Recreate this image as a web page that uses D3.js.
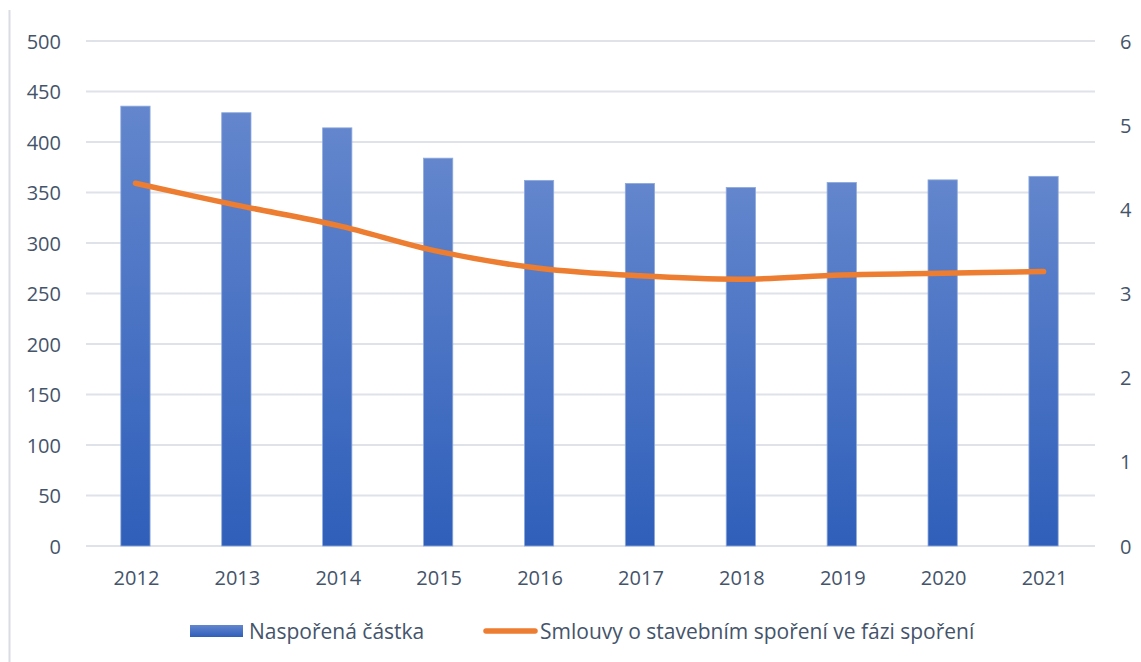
<!DOCTYPE html>
<html>
<head>
<meta charset="utf-8">
<script src="https://cdn.jsdelivr.net/npm/d3@7"></script>
<style>
  body { margin: 0; background: #fff; }
  text { font-family: "Open Sans", sans-serif; fill: #44546a; }
</style>
</head>
<body>
<script>
const years = ['2012', '2013', '2014', '2015', '2016', '2017', '2018', '2019', '2020', '2021'];
const savedAmount = [435.5, 429, 414, 384, 362, 359, 355, 360, 362.5, 366];
const contracts = [4.31, 4.05, 3.81, 3.50, 3.30, 3.21, 3.17, 3.22, 3.24, 3.26];
const leftTicks = [0, 50, 100, 150, 200, 250, 300, 350, 400, 450, 500];
const rightTicks = [0, 1, 2, 3, 4, 5, 6];
const legendLabels = ['Naspořená částka', 'Smlouvy o stavebním spoření ve fázi spoření'];

const svgWidth = 1141;
const svgHeight = 662;
const margin = { top: 41, right: 46, bottom: 116, left: 86 };
const width = svgWidth - margin.left - margin.right;
const height = svgHeight - margin.top - margin.bottom;

const root = d3.select('body')
    .append('svg')
    .attr('width', svgWidth)
    .attr('height', svgHeight);

// gradient for bars, lighter on top
const grad = root.append('defs').append('linearGradient')
    .attr('id', 'barGrad')
    .attr('x1', 0).attr('y1', 0).attr('x2', 0).attr('y2', 1);
grad.append('stop').attr('offset', '0%').attr('stop-color', '#6386cd');
grad.append('stop').attr('offset', '100%').attr('stop-color', '#2f5fba');

// chart frame left edge
root.append('line')
    .attr('x1', 9.5).attr('x2', 9.5)
    .attr('y1', 10).attr('y2', svgHeight)
    .attr('stroke', '#d9dce2')
    .attr('stroke-width', 2);

const svg = root.append('g')
    .attr('transform', `translate(${margin.left}, ${margin.top})`);

const x = d3.scaleBand()
    .domain(years)
    .range([0, width])
    .padding(0);

const y = d3.scaleLinear()
    .domain([0, 500])
    .range([height, 0]);

const y2 = d3.scaleLinear()
    .domain([0, 6])
    .range([height, 0]);

// gridlines
svg.append('g')
    .selectAll('line')
    .data(leftTicks)
    .enter()
    .append('line')
    .attr('x1', 0)
    .attr('x2', width)
    .attr('y1', d => y(d))
    .attr('y2', d => y(d))
    .attr('stroke', '#dfe2e8')
    .attr('stroke-width', 2);

const leftAxis = svg.append('g')
    .attr('transform', 'translate(-22, 0)')
    .call(d3.axisLeft(y).tickValues(leftTicks).tickSize(0));
leftAxis.select('.domain').remove();
leftAxis.selectAll('text').style('font-size', '20px').attr('dy', '0.35em');

const rightAxis = svg.append('g')
    .attr('transform', `translate(${width + 22}, 0)`)
    .call(d3.axisRight(y2).tickValues(rightTicks).tickFormat(d3.format('d')).tickSize(0));
rightAxis.select('.domain').remove();
rightAxis.selectAll('text').style('font-size', '20px').attr('dy', '0.35em');

const bottomAxis = svg.append('g')
    .attr('transform', `translate(0, ${height + 22})`)
    .call(d3.axisBottom(x).tickSize(0));
bottomAxis.select('.domain').remove();
bottomAxis.selectAll('text').style('font-size', '20px').attr('dy', '0.7em');

const barW = x.bandwidth() * 0.29;

svg.selectAll('.bar')
    .data(years)
    .enter()
    .append('rect')
    .attr('class', 'bar')
    .attr('x', (d) => x(d) + (x.bandwidth() - barW) / 2 - 1)
    .attr('y', (d, i) => y(savedAmount[i]))
    .attr('width', barW)
    .attr('height', (d, i) => height - y(savedAmount[i]))
    .attr('fill', 'url(#barGrad)')
    .attr('stroke', '#8eaadc')
    .attr('stroke-width', 0.8);

const line = d3.line()
    .x((d, i) => x(years[i]) + x.bandwidth() / 2 - 1)
    .y(d => y2(d))
    .curve(d3.curveCatmullRom.alpha(0.5));

svg.append('path')
    .datum(contracts)
    .attr('d', line)
    .attr('fill', 'none')
    .attr('stroke', '#ed7d31')
    .attr('stroke-width', 5.5)
    .attr('stroke-linecap', 'round')
    .attr('stroke-linejoin', 'round');

// legend
const legend = root.append('g');
legend.append('rect')
    .attr('x', 190).attr('y', 625)
    .attr('width', 53).attr('height', 12)
    .attr('fill', 'url(#barGrad)');
legend.append('text')
    .attr('x', 249).attr('y', 639)
    .style('font-size', '21px')
    .text(legendLabels[0]);
legend.append('line')
    .attr('x1', 486).attr('x2', 535)
    .attr('y1', 631).attr('y2', 631)
    .attr('stroke', '#ed7d31')
    .attr('stroke-width', 5.5)
    .attr('stroke-linecap', 'round');
legend.append('text')
    .attr('x', 540).attr('y', 639)
    .style('font-size', '21px')
    .text(legendLabels[1]);
</script>
</body>
</html>
